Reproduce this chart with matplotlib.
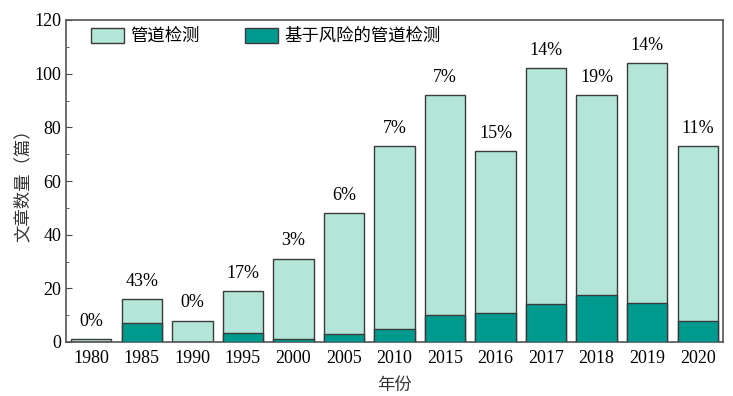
import matplotlib.pyplot as plt
from matplotlib.ticker import MultipleLocator
from matplotlib.patches import Patch

plt.rcParams['font.family'] = ['Liberation Serif', 'Noto Sans CJK SC']

years = ['1980', '1985', '1990', '1995', '2000', '2005', '2010',
         '2015', '2016', '2017', '2018', '2019', '2020']
total = [1, 16, 8, 19, 31, 48, 73, 92, 71, 102, 92, 104, 73]
risk = [0, 7, 0, 3.4, 1, 3, 5, 10, 10.7, 14.3, 17.5, 14.6, 8]
pct_labels = ['0%', '43%', '0%', '17%', '3%', '6%', '7%',
              '7%', '15%', '14%', '19%', '14%', '11%']

light = '#b3e6d8'
dark = '#009b8e'
edge = '#3a3a3a'

fig = plt.figure(figsize=(7.33, 3.96), dpi=100)
ax = fig.add_axes([66/733, 1 - 342/396, (723-66)/733, (342-20)/396])

x = range(len(years))
ax.bar(x, total, width=0.8, color=light, edgecolor=edge, linewidth=1.0, zorder=2)
ax.bar(x, risk, width=0.8, color=dark, edgecolor=edge, linewidth=1.0, zorder=3)

for i, (t, lab) in enumerate(zip(total, pct_labels)):
    ax.text(i, t + 3.5, lab, ha='center', va='bottom', fontsize=13)

ax.set_xlim(-0.5, len(years) - 0.5)
ax.set_ylim(0, 120)
ax.set_xticks(list(x))
ax.set_xticklabels(years)
ax.yaxis.set_major_locator(MultipleLocator(20))
ax.yaxis.set_minor_locator(MultipleLocator(10))
ax.tick_params(axis='y', which='both', direction='in', labelsize=13, color='#444444')
ax.tick_params(axis='y', which='major', length=4)
ax.tick_params(axis='y', which='minor', length=2)
ax.tick_params(axis='x', length=0, labelsize=13, pad=6)
for s in ax.spines.values():
    s.set_color('#555555')
    s.set_linewidth(1.2)

ax.set_ylabel('文章数量（篇）', fontsize=12.5, color='#333333', labelpad=2)
ax.set_xlabel('年份', fontsize=12.5, color='#333333', labelpad=8)

handles = [Patch(facecolor=light, edgecolor=edge), Patch(facecolor=dark, edgecolor=edge)]
ax.legend(handles, ['管道检测', '基于风险的管道检测'], loc='upper left', ncol=2,
          frameon=False, fontsize=12.5, handlelength=1.9, handleheight=0.95,
          columnspacing=2.6, handletextpad=0.35, bbox_to_anchor=(0.015, 1.025))

fig.savefig('out.png', dpi=100)
